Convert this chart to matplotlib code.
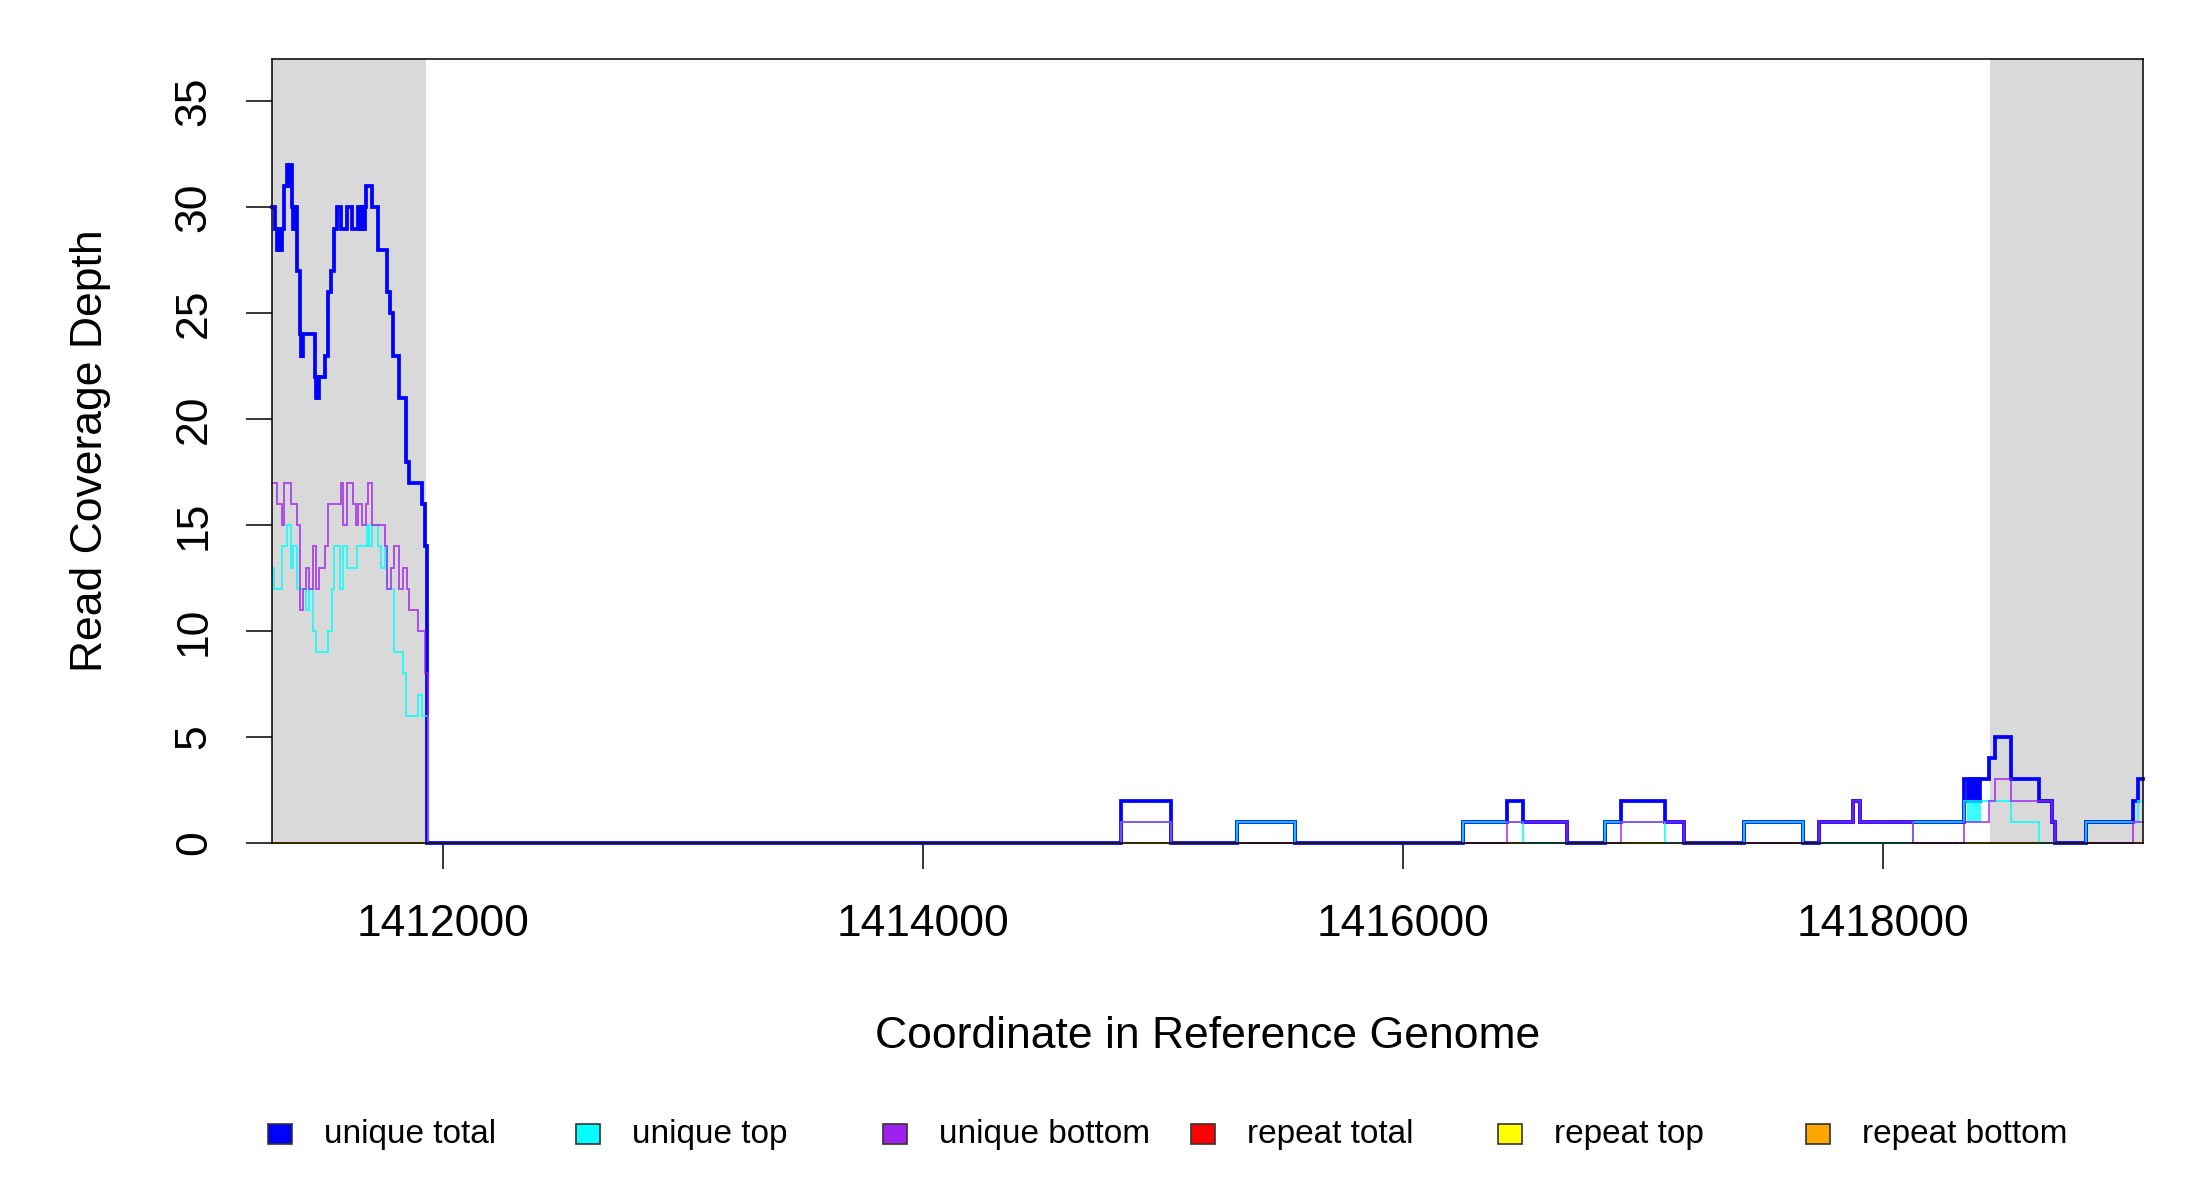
import matplotlib
matplotlib.use('Agg')
import matplotlib.pyplot as plt
from matplotlib.patches import Rectangle

plt.rcParams['font.family'] = ['Liberation Sans', 'DejaVu Sans']

# plotted window and the grey flank regions
x_range = (1411285, 1419082)
flank_regions = [(1411285, 1411928), (1418446, 1419082)]

# coverage as step breakpoints (start coordinate, depth)
unique_total_pos = [1411285, 1411299, 1411308, 1411315, 1411320, 1411326, 1411336, 1411347,
                    1411354, 1411358, 1411368, 1411372, 1411376, 1411381, 1411385, 1411389,
                    1411392, 1411403, 1411405, 1411410, 1411413, 1411417, 1411465, 1411470,
                    1411475, 1411479, 1411483, 1411507, 1411521, 1411531, 1411545, 1411556,
                    1411572, 1411597, 1411618, 1411646, 1411653, 1411660, 1411667, 1411674,
                    1411678, 1411701, 1411729, 1411764, 1411778, 1411792, 1411817, 1411845,
                    1411858, 1411910, 1411924, 1411934,
                    1414822, 1415031, 1415306, 1415549, 1416250, 1416434, 1416500, 1416681,
                    1416842, 1416906, 1417091, 1417170, 1417418, 1417665, 1417730, 1417875,
                    1417901, 1418335, 1418353, 1418360, 1418368, 1418375, 1418383, 1418390,
                    1418397, 1418404, 1418439, 1418466, 1418530, 1418647, 1418701, 1418716,
                    1418845, 1419039, 1419063]
unique_total_val = [30, 29, 28, 29, 28, 29, 31, 32,
                    31, 32, 30, 29, 30, 29, 30, 29,
                    27, 24, 23, 24, 23, 24, 22, 21,
                    22, 21, 22, 23, 26, 27, 29, 30,
                    29, 30, 29, 30, 29, 30, 29, 30,
                    31, 30, 28, 26, 25, 23, 21, 18,
                    17, 16, 14, 0,
                    2, 0, 1, 0, 1, 2, 1, 0,
                    1, 2, 1, 0, 1, 0, 1, 2,
                    1, 3, 2, 3, 2, 3, 2, 3,
                    2, 3, 4, 5, 3, 2, 1, 0,
                    1, 2, 3]

unique_top_pos = [1411285, 1411295, 1411326, 1411350, 1411364, 1411375, 1411389, 1411428,
                  1411442, 1411456, 1411468, 1411521, 1411535, 1411545, 1411570, 1411583,
                  1411597, 1411639, 1411681, 1411690, 1411701, 1411726, 1411740, 1411757,
                  1411767, 1411795, 1411833, 1411845, 1411896, 1411910, 1411935,
                  1414822, 1415031, 1415306, 1415549, 1416250, 1416500, 1416842, 1417091,
                  1417418, 1417665, 1418125, 1418335, 1418353, 1418360, 1418368, 1418375,
                  1418383, 1418390, 1418397, 1418404, 1418530, 1418647, 1418845, 1419063]
unique_top_val = [13, 12, 14, 15, 13, 14, 12, 11,
                  12, 10, 9, 10, 12, 14, 12, 14,
                  13, 14, 15, 14, 15, 14, 13, 14,
                  12, 9, 8, 6, 7, 6, 0,
                  1, 0, 1, 0, 1, 0, 1, 0,
                  1, 0, 1, 2, 1, 2, 1, 2,
                  1, 2, 1, 2, 1, 0, 1, 2]

unique_bottom_pos = [1411285, 1411309, 1411327, 1411336, 1411364, 1411389, 1411403, 1411417,
                     1411428, 1411442, 1411456, 1411470, 1411484, 1411507, 1411521, 1411572,
                     1411584, 1411597, 1411622, 1411636, 1411646, 1411660, 1411677, 1411688,
                     1411702, 1411757, 1411767, 1411781, 1411795, 1411817, 1411834, 1411847,
                     1411857, 1411896, 1411924, 1411935,
                     1414822, 1415031, 1416434, 1416681, 1416906, 1417170, 1417730, 1417875,
                     1417901, 1418125, 1418335, 1418439, 1418466, 1418530, 1418701, 1418716,
                     1419039]
unique_bottom_val = [17, 16, 15, 17, 16, 15, 11, 12,
                     13, 12, 14, 12, 13, 14, 16, 17,
                     15, 17, 16, 15, 16, 15, 16, 17,
                     15, 14, 12, 13, 14, 12, 13, 12,
                     11, 10, 8, 0,
                     1, 0, 1, 0, 1, 0, 1, 2,
                     1, 0, 1, 2, 3, 2, 1, 0,
                     1]

repeat_total_pos = [1411285]
repeat_total_val = [0]
repeat_top_pos = [1411285]
repeat_top_val = [0]
repeat_bottom_pos = [1411285]
repeat_bottom_val = [0]

legend_labels = ['unique total', 'unique top', 'unique bottom',
                 'repeat total', 'repeat top', 'repeat bottom']
legend_colors = ['#0000FF', '#00FFFF', '#A020F0', '#FF0000', '#FFFF00', '#FFA500']

fig = plt.figure(figsize=(22, 12), dpi=100)
ax = fig.add_axes([0.1235, 0.2975, 0.8506, 0.6533])

for a, b in flank_regions:
    ax.axvspan(a, b, color='#D9D9D9', lw=0, zorder=0)


def draw_steps(pos, val, color, lw, alpha=1.0, z=2):
    xs = list(pos) + [x_range[1]]
    ys = list(val) + [val[-1]]
    ax.step(xs, ys, where='post', color=color, lw=lw, alpha=alpha,
            zorder=z, clip_on=False, solid_joinstyle='miter')


draw_steps(repeat_total_pos, repeat_total_val, '#FF0000', 1.4, z=2)
draw_steps(repeat_top_pos, repeat_top_val, '#FFFF00', 1.4, z=2.1)
draw_steps(repeat_bottom_pos, repeat_bottom_val, '#FFA500', 1.4, z=2.2)
draw_steps(unique_total_pos, unique_total_val, '#0000FF', 2.7, z=3)
draw_steps(unique_top_pos, unique_top_val, '#00FFFF', 1.4, alpha=0.8, z=3.1)
draw_steps(unique_bottom_pos, unique_bottom_val, '#A020F0', 1.4, alpha=0.75, z=3.2)

ax.set_xlim(*x_range)
ax.set_ylim(0, 37)
ax.set_xticks([1412000, 1414000, 1416000, 1418000])
ax.set_xticklabels(['1412000', '1414000', '1416000', '1418000'])
ax.set_yticks(range(0, 36, 5))
ax.set_yticklabels([str(v) for v in range(0, 36, 5)], rotation=90, va='center')

ax.tick_params(axis='both', labelsize=32, length=19, width=1.1, color='black')
ax.tick_params(axis='x', pad=25)
ax.tick_params(axis='y', pad=22)
for s in ax.spines.values():
    s.set_linewidth(1.1)
    s.set_color('black')
    s.set_zorder(5)

ax.set_xlabel('Coordinate in Reference Genome', fontsize=32, labelpad=51)
ax.set_ylabel('Read Coverage Depth', fontsize=32, labelpad=45)

# legend row under the plot
ly = 1 - 1134 / 1200
for i, (lab, col) in enumerate(zip(legend_labels, legend_colors)):
    cx = (280 + i * 307.6) / 2200
    fig.add_artist(Rectangle((cx - 12 / 2200, ly - 10 / 1200), 24 / 2200, 20 / 1200,
                             transform=fig.transFigure, facecolor=col,
                             edgecolor='#333333', lw=1.2))
    fig.text(cx + 44 / 2200, ly, lab, fontsize=24, va='center', ha='left')

fig.savefig('out.png', dpi=100, facecolor='white')
